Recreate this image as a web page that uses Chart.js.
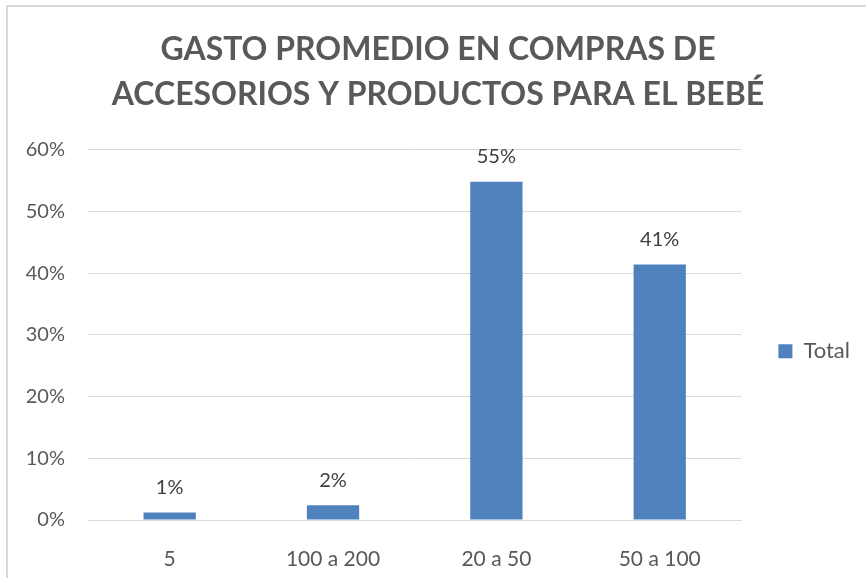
<!DOCTYPE html>
<html>
<head>
<meta charset="utf-8">
<script src="https://cdn.jsdelivr.net/npm/chart.js@4.4.1/dist/chart.umd.min.js"></script>
<style>
  html, body { margin: 0; padding: 0; background: #ffffff; }
  #frame {
    position: absolute; left: 6px; top: 5px;
    width: 860px; height: 573px;
    border-top: 2px solid #d9d9d9; border-left: 2px solid #d9d9d9;
    box-sizing: border-box;
  }
  #chart { display: block; }
</style>
</head>
<body>
<div id="frame"><canvas id="chart" width="858" height="571"></canvas></div>
<script>
// Gasto promedio por rango (porcentaje de respuestas)
const categories = ['5', '100 a 200', '20 a 50', '50 a 100'];
const totalValues = [1.2, 2.4, 54.8, 41.4];
const yTicks = [0, 10, 20, 30, 40, 50, 60];
const titleLines = ['GASTO PROMEDIO EN COMPRAS DE', 'ACCESORIOS Y PRODUCTOS PARA EL BEBÉ'];
const seriesName = 'Total';

const TEXT = '#595959';
const BAR = '#4f81bd';
const GRID = '#d9d9d9';
const FONT = 'Lato';

// Value labels above each bar
const barLabels = {
  id: 'barLabels',
  afterDatasetsDraw(chart) {
    const ctx = chart.ctx;
    const meta = chart.getDatasetMeta(0);
    ctx.save();
    ctx.fillStyle = '#404040';
    ctx.font = '20px ' + FONT;
    ctx.textAlign = 'center';
    ctx.textBaseline = 'middle';
    meta.data.forEach((bar, i) => {
      const v = chart.data.datasets[0].data[i];
      ctx.fillText(Math.round(v) + '%', bar.x, bar.y - 25);
    });
    ctx.restore();
  }
};

new Chart(document.getElementById('chart'), {
  type: 'bar',
  data: {
    labels: categories,
    datasets: [{
      label: seriesName,
      data: totalValues,
      backgroundColor: BAR,
      borderWidth: 0,
      barPercentage: 0.32,
      categoryPercentage: 1.0
    }]
  },
  options: {
    responsive: false,
    animation: false,
    layout: { padding: { left: 8, right: 6, top: 0, bottom: 0 } },
    plugins: {
      title: {
        display: true,
        text: titleLines,
        color: TEXT,
        font: { family: FONT, size: 32, weight: 'bold', lineHeight: 1.4 },
        padding: { top: 20, bottom: 33 }
      },
      legend: {
        position: 'right',
        fullSize: false,
        title: {
          display: true,
          text: ' ',
          font: { family: FONT, size: 10, lineHeight: 1.2 },
          padding: { top: 0, bottom: 21 }
        },
        labels: {
          color: TEXT,
          font: { family: FONT, size: 22 },
          boxWidth: 14,
          boxHeight: 14,
          padding: 37
        }
      },
      tooltip: { enabled: false }
    },
    scales: {
      x: {
        grid: { display: false },
        border: { color: GRID, width: 1 },
        ticks: { color: TEXT, font: { family: FONT, size: 21 }, padding: 19 },
        afterFit(s) { s.height = 58; }
      },
      y: {
        min: 0, max: 60,
        afterBuildTicks(s) { s.ticks = yTicks.map(v => ({ value: v })); },
        grid: { color: GRID, lineWidth: 1, drawTicks: false },
        border: { display: false },
        ticks: {
          color: TEXT,
          font: { family: FONT, size: 20 },
          padding: 23,
          callback: v => v + '%'
        },
        afterFit(s) { s.width = 72; }
      }
    }
  },
  plugins: [barLabels]
});
</script>
</body>
</html>
